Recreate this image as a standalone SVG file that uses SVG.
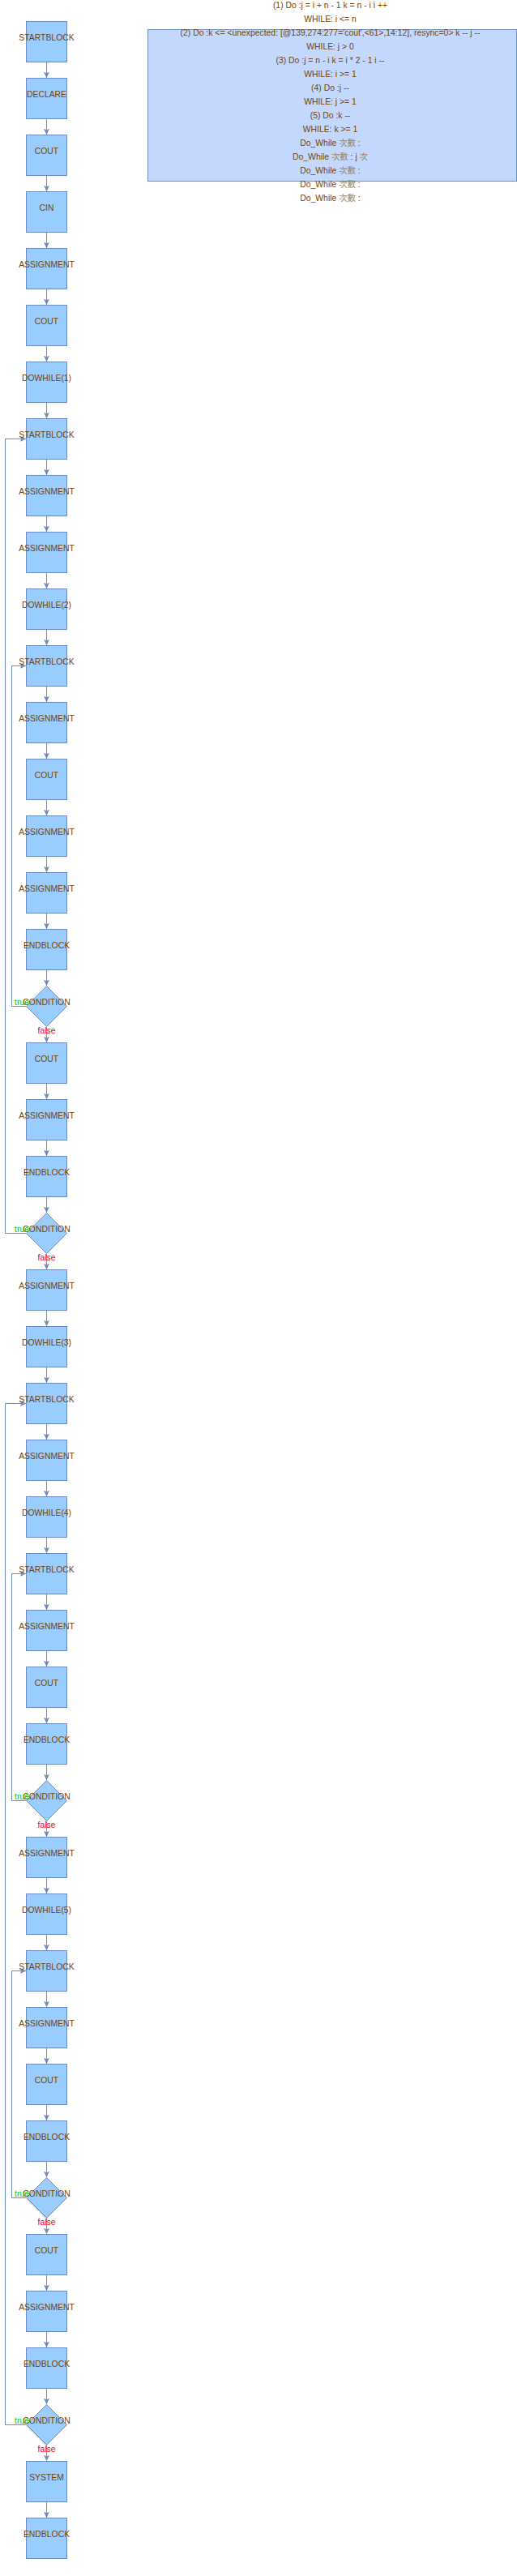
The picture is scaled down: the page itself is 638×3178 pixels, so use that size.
<svg xmlns="http://www.w3.org/2000/svg" width="638" height="3178" viewBox="0 0 638 3178">
<style>
text{font-family:"Liberation Sans","Noto Sans CJK TC",Arial,sans-serif;font-size:10.4px;fill:#774400;text-anchor:middle}
.n{fill:#99ccff;stroke:#6c8ebf;stroke-width:1}
.c{fill:none;stroke:#6c8ebf;stroke-width:1}
.t{fill:#00cc00}
.f{fill:#ff0000}
.cjk{fill:#9a8466}
.box{fill:#c4d8fd;stroke:#6c8ebf;stroke-width:1}
</style>
<defs>
<marker id="a" viewBox="0 0 8 7" refX="8" refY="3.5" markerWidth="8" markerHeight="7" markerUnits="userSpaceOnUse" orient="auto">
<path d="M0,0 L8,3.5 L0,7 L2,3.5 Z" fill="#6c8ebf"/>
</marker>
</defs>
<g id="info">
<rect class="box" x="182.5" y="36.5" width="455" height="187"/>
<text x="407.5" y="10.4">(1) Do :j = i + n - 1 k = n - i i ++</text>
<text x="407.5" y="27.35">WHILE: i &lt;= n</text>
<text x="407.5" y="44.3">(2) Do :k &lt;= &lt;unexpected: [@139,274:277='cout',&lt;61&gt;,14:12], resync=0&gt; k -- j --</text>
<text x="407.5" y="61.25">WHILE: j &gt; 0</text>
<text x="407.5" y="78.2">(3) Do :j = n - i k = i * 2 - 1 i --</text>
<text x="407.5" y="95.15">WHILE: i &gt;= 1</text>
<text x="407.5" y="112.1">(4) Do :j --</text>
<text x="407.5" y="129.05">WHILE: j &gt;= 1</text>
<text x="407.5" y="146">(5) Do :k --</text>
<text x="407.5" y="162.95">WHILE: k &gt;= 1</text>
<text x="407.5" y="179.9">Do_While <tspan class="cjk">次數</tspan> :</text>
<text x="407.5" y="196.85">Do_While <tspan class="cjk">次數</tspan> : j <tspan class="cjk">次</tspan></text>
<text x="407.5" y="213.8">Do_While <tspan class="cjk">次數</tspan> :</text>
<text x="407.5" y="230.75">Do_While <tspan class="cjk">次數</tspan> :</text>
<text x="407.5" y="247.7">Do_While <tspan class="cjk">次數</tspan> :</text>
</g>
<g id="connectors">
<path class="c" marker-end="url(#a)" d="M57.5,76.5V96.5"/>
<path class="c" marker-end="url(#a)" d="M57.5,146.5V166.5"/>
<path class="c" marker-end="url(#a)" d="M57.5,216.5V236.5"/>
<path class="c" marker-end="url(#a)" d="M57.5,286.5V306.5"/>
<path class="c" marker-end="url(#a)" d="M57.5,356.5V376.5"/>
<path class="c" marker-end="url(#a)" d="M57.5,426.5V446.5"/>
<path class="c" marker-end="url(#a)" d="M57.5,496.5V516.5"/>
<path class="c" marker-end="url(#a)" d="M57.5,566.5V586.5"/>
<path class="c" marker-end="url(#a)" d="M57.5,636.5V656.5"/>
<path class="c" marker-end="url(#a)" d="M57.5,706.5V726.5"/>
<path class="c" marker-end="url(#a)" d="M57.5,776.5V796.5"/>
<path class="c" marker-end="url(#a)" d="M57.5,846.5V866.5"/>
<path class="c" marker-end="url(#a)" d="M57.5,916.5V936.5"/>
<path class="c" marker-end="url(#a)" d="M57.5,986.5V1006.5"/>
<path class="c" marker-end="url(#a)" d="M57.5,1056.5V1076.5"/>
<path class="c" marker-end="url(#a)" d="M57.5,1126.5V1146.5"/>
<path class="c" marker-end="url(#a)" d="M57.5,1196.5V1216.5"/>
<path class="c" marker-end="url(#a)" d="M57.5,1266.5V1286.5"/>
<path class="c" marker-end="url(#a)" d="M57.5,1336.5V1356.5"/>
<path class="c" marker-end="url(#a)" d="M57.5,1406.5V1426.5"/>
<path class="c" marker-end="url(#a)" d="M57.5,1476.5V1496.5"/>
<path class="c" marker-end="url(#a)" d="M57.5,1546.5V1566.5"/>
<path class="c" marker-end="url(#a)" d="M57.5,1616.5V1636.5"/>
<path class="c" marker-end="url(#a)" d="M57.5,1686.5V1706.5"/>
<path class="c" marker-end="url(#a)" d="M57.5,1756.5V1776.5"/>
<path class="c" marker-end="url(#a)" d="M57.5,1826.5V1846.5"/>
<path class="c" marker-end="url(#a)" d="M57.5,1896.5V1916.5"/>
<path class="c" marker-end="url(#a)" d="M57.5,1966.5V1986.5"/>
<path class="c" marker-end="url(#a)" d="M57.5,2036.5V2056.5"/>
<path class="c" marker-end="url(#a)" d="M57.5,2106.5V2126.5"/>
<path class="c" marker-end="url(#a)" d="M57.5,2176.5V2196.5"/>
<path class="c" marker-end="url(#a)" d="M57.5,2246.5V2266.5"/>
<path class="c" marker-end="url(#a)" d="M57.5,2316.5V2336.5"/>
<path class="c" marker-end="url(#a)" d="M57.5,2386.5V2406.5"/>
<path class="c" marker-end="url(#a)" d="M57.5,2456.5V2476.5"/>
<path class="c" marker-end="url(#a)" d="M57.5,2526.5V2546.5"/>
<path class="c" marker-end="url(#a)" d="M57.5,2596.5V2616.5"/>
<path class="c" marker-end="url(#a)" d="M57.5,2666.5V2686.5"/>
<path class="c" marker-end="url(#a)" d="M57.5,2736.5V2756.5"/>
<path class="c" marker-end="url(#a)" d="M57.5,2806.5V2826.5"/>
<path class="c" marker-end="url(#a)" d="M57.5,2876.5V2896.5"/>
<path class="c" marker-end="url(#a)" d="M57.5,2946.5V2966.5"/>
<path class="c" marker-end="url(#a)" d="M57.5,3016.5V3036.5"/>
<path class="c" marker-end="url(#a)" d="M57.5,3086.5V3106.5"/>
<path class="c" marker-end="url(#a)" d="M32.5,1241.5H14.5V821.5H32.5"/>
<path class="c" marker-end="url(#a)" d="M32.5,1521.5H6.5V541.5H32.5"/>
<path class="c" marker-end="url(#a)" d="M32.5,2221.5H14.5V1941.5H32.5"/>
<path class="c" marker-end="url(#a)" d="M32.5,2711.5H14.5V2431.5H32.5"/>
<path class="c" marker-end="url(#a)" d="M32.5,2991.5H6.5V1731.5H32.5"/>
</g>
<g id="n0"><rect class="n" x="32.5" y="26.5" width="50" height="50"/><text x="57.5" y="50">STARTBLOCK</text></g>
<g id="n1"><rect class="n" x="32.5" y="96.5" width="50" height="50"/><text x="57.5" y="120">DECLARE</text></g>
<g id="n2"><rect class="n" x="32.5" y="166.5" width="50" height="50"/><text x="57.5" y="190">COUT</text></g>
<g id="n3"><rect class="n" x="32.5" y="236.5" width="50" height="50"/><text x="57.5" y="260">CIN</text></g>
<g id="n4"><rect class="n" x="32.5" y="306.5" width="50" height="50"/><text x="57.5" y="330">ASSIGNMENT</text></g>
<g id="n5"><rect class="n" x="32.5" y="376.5" width="50" height="50"/><text x="57.5" y="400">COUT</text></g>
<g id="n6"><rect class="n" x="32.5" y="446.5" width="50" height="50"/><text x="57.5" y="470">DOWHILE(1)</text></g>
<g id="n7"><rect class="n" x="32.5" y="516.5" width="50" height="50"/><text x="57.5" y="540">STARTBLOCK</text></g>
<g id="n8"><rect class="n" x="32.5" y="586.5" width="50" height="50"/><text x="57.5" y="610">ASSIGNMENT</text></g>
<g id="n9"><rect class="n" x="32.5" y="656.5" width="50" height="50"/><text x="57.5" y="680">ASSIGNMENT</text></g>
<g id="n10"><rect class="n" x="32.5" y="726.5" width="50" height="50"/><text x="57.5" y="750">DOWHILE(2)</text></g>
<g id="n11"><rect class="n" x="32.5" y="796.5" width="50" height="50"/><text x="57.5" y="820">STARTBLOCK</text></g>
<g id="n12"><rect class="n" x="32.5" y="866.5" width="50" height="50"/><text x="57.5" y="890">ASSIGNMENT</text></g>
<g id="n13"><rect class="n" x="32.5" y="936.5" width="50" height="50"/><text x="57.5" y="960">COUT</text></g>
<g id="n14"><rect class="n" x="32.5" y="1006.5" width="50" height="50"/><text x="57.5" y="1030">ASSIGNMENT</text></g>
<g id="n15"><rect class="n" x="32.5" y="1076.5" width="50" height="50"/><text x="57.5" y="1100">ASSIGNMENT</text></g>
<g id="n16"><rect class="n" x="32.5" y="1146.5" width="50" height="50"/><text x="57.5" y="1170">ENDBLOCK</text></g>
<g id="n17"><path class="n" d="M57.5,1216.5L82.5,1241.5L57.5,1266.5L32.5,1241.5Z"/><text x="57.5" y="1240">CONDITION</text><text class="t" x="27" y="1240">true</text><text class="f" x="57.5" y="1275">false</text></g>
<g id="n18"><rect class="n" x="32.5" y="1286.5" width="50" height="50"/><text x="57.5" y="1310">COUT</text></g>
<g id="n19"><rect class="n" x="32.5" y="1356.5" width="50" height="50"/><text x="57.5" y="1380">ASSIGNMENT</text></g>
<g id="n20"><rect class="n" x="32.5" y="1426.5" width="50" height="50"/><text x="57.5" y="1450">ENDBLOCK</text></g>
<g id="n21"><path class="n" d="M57.5,1496.5L82.5,1521.5L57.5,1546.5L32.5,1521.5Z"/><text x="57.5" y="1520">CONDITION</text><text class="t" x="27" y="1520">true</text><text class="f" x="57.5" y="1555">false</text></g>
<g id="n22"><rect class="n" x="32.5" y="1566.5" width="50" height="50"/><text x="57.5" y="1590">ASSIGNMENT</text></g>
<g id="n23"><rect class="n" x="32.5" y="1636.5" width="50" height="50"/><text x="57.5" y="1660">DOWHILE(3)</text></g>
<g id="n24"><rect class="n" x="32.5" y="1706.5" width="50" height="50"/><text x="57.5" y="1730">STARTBLOCK</text></g>
<g id="n25"><rect class="n" x="32.5" y="1776.5" width="50" height="50"/><text x="57.5" y="1800">ASSIGNMENT</text></g>
<g id="n26"><rect class="n" x="32.5" y="1846.5" width="50" height="50"/><text x="57.5" y="1870">DOWHILE(4)</text></g>
<g id="n27"><rect class="n" x="32.5" y="1916.5" width="50" height="50"/><text x="57.5" y="1940">STARTBLOCK</text></g>
<g id="n28"><rect class="n" x="32.5" y="1986.5" width="50" height="50"/><text x="57.5" y="2010">ASSIGNMENT</text></g>
<g id="n29"><rect class="n" x="32.5" y="2056.5" width="50" height="50"/><text x="57.5" y="2080">COUT</text></g>
<g id="n30"><rect class="n" x="32.5" y="2126.5" width="50" height="50"/><text x="57.5" y="2150">ENDBLOCK</text></g>
<g id="n31"><path class="n" d="M57.5,2196.5L82.5,2221.5L57.5,2246.5L32.5,2221.5Z"/><text x="57.5" y="2220">CONDITION</text><text class="t" x="27" y="2220">true</text><text class="f" x="57.5" y="2255">false</text></g>
<g id="n32"><rect class="n" x="32.5" y="2266.5" width="50" height="50"/><text x="57.5" y="2290">ASSIGNMENT</text></g>
<g id="n33"><rect class="n" x="32.5" y="2336.5" width="50" height="50"/><text x="57.5" y="2360">DOWHILE(5)</text></g>
<g id="n34"><rect class="n" x="32.5" y="2406.5" width="50" height="50"/><text x="57.5" y="2430">STARTBLOCK</text></g>
<g id="n35"><rect class="n" x="32.5" y="2476.5" width="50" height="50"/><text x="57.5" y="2500">ASSIGNMENT</text></g>
<g id="n36"><rect class="n" x="32.5" y="2546.5" width="50" height="50"/><text x="57.5" y="2570">COUT</text></g>
<g id="n37"><rect class="n" x="32.5" y="2616.5" width="50" height="50"/><text x="57.5" y="2640">ENDBLOCK</text></g>
<g id="n38"><path class="n" d="M57.5,2686.5L82.5,2711.5L57.5,2736.5L32.5,2711.5Z"/><text x="57.5" y="2710">CONDITION</text><text class="t" x="27" y="2710">true</text><text class="f" x="57.5" y="2745">false</text></g>
<g id="n39"><rect class="n" x="32.5" y="2756.5" width="50" height="50"/><text x="57.5" y="2780">COUT</text></g>
<g id="n40"><rect class="n" x="32.5" y="2826.5" width="50" height="50"/><text x="57.5" y="2850">ASSIGNMENT</text></g>
<g id="n41"><rect class="n" x="32.5" y="2896.5" width="50" height="50"/><text x="57.5" y="2920">ENDBLOCK</text></g>
<g id="n42"><path class="n" d="M57.5,2966.5L82.5,2991.5L57.5,3016.5L32.5,2991.5Z"/><text x="57.5" y="2990">CONDITION</text><text class="t" x="27" y="2990">true</text><text class="f" x="57.5" y="3025">false</text></g>
<g id="n43"><rect class="n" x="32.5" y="3036.5" width="50" height="50"/><text x="57.5" y="3060">SYSTEM</text></g>
<g id="n44"><rect class="n" x="32.5" y="3106.5" width="50" height="50"/><text x="57.5" y="3130">ENDBLOCK</text></g>
</svg>
